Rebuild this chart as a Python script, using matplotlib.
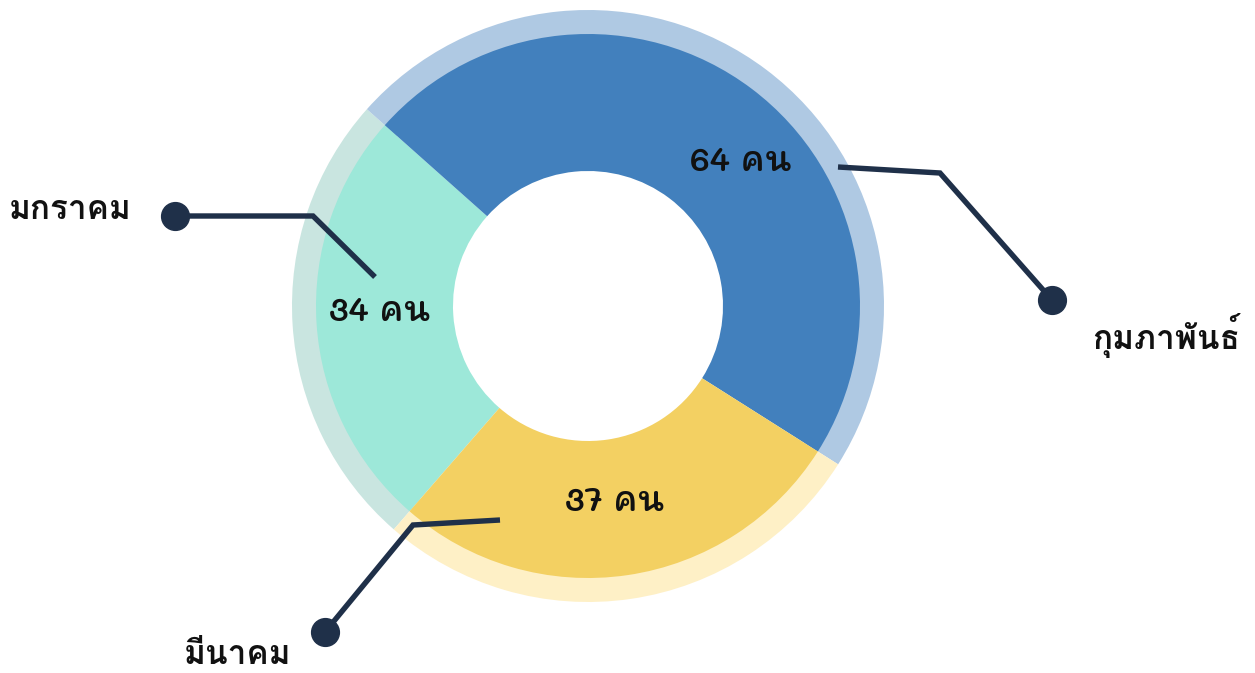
import matplotlib
matplotlib.use("Agg")
import matplotlib.pyplot as plt

# ── datos ──
meses   = ["มกราคม", "กุมภาพันธ์", "มีนาคม"]
valores = [34, 64, 37]
etiquetas = [f"{v} คน" for v in valores]

colores       = ["#9DE8D9", "#4280BD", "#F3D062"]
colores_claro = ["#C9E5E0", "#AFC9E3", "#FEF0C6"]
NAVY = "#1F3049"

W, H = 1255, 673
fig = plt.figure(figsize=(W / 100, H / 100), dpi=100)
ax = fig.add_axes([0, 0, 1, 1])

cx, cy = 588, H - 306   # centro en pixeles (y hacia arriba)

# anillo exterior claro
ax.pie(valores, colors=colores_claro, radius=296, center=(cx, cy),
       startangle=229, counterclock=False,
       wedgeprops=dict(width=40, linewidth=0))
# anillo principal
ax.pie(valores, colors=colores, radius=272, center=(cx, cy),
       startangle=229, counterclock=False,
       wedgeprops=dict(width=137, linewidth=0))

ax.set_xlim(0, W)
ax.set_ylim(0, H)
ax.set_aspect("equal")
ax.axis("off")

def py(y):
    return H - y

# etiquetas de valor
pos_valor = [(379, 312), (741, 162), (614, 502)]
for (x, y), txt in zip(pos_valor, etiquetas):
    ax.text(x, py(y), txt, ha="center", va="center", fontsize=23.5,
            fontweight="semibold", color="#111111", family=["Mali", "DejaVu Sans"])

# líneas guía
guias = [
    [(175, 216), (313, 216), (375, 277)],
    [(838, 167), (940, 173), (1052, 300)],
    [(500, 520), (413, 525), (325, 632)],
]
puntos = [(175, 216), (1052, 300), (325, 632)]
for g, p in zip(guias, puntos):
    xs = [a for a, b in g]
    ys = [py(b) for a, b in g]
    ax.plot(xs, ys, color=NAVY, lw=3.9, solid_capstyle="butt",
            solid_joinstyle="miter", zorder=5)
    ax.plot(p[0], py(p[1]), "o", color=NAVY, markersize=20, zorder=6)

# nombres de meses
pos_mes = [(70, 210), (1166, 336), (238, 655)]
for (x, y), txt in zip(pos_mes, meses):
    ax.text(x, py(y), txt, ha="center", va="center", fontsize=24,
            fontweight="bold", color="#111111", family=["Loma", "DejaVu Sans"])

fig.savefig("out.png", dpi=100)
